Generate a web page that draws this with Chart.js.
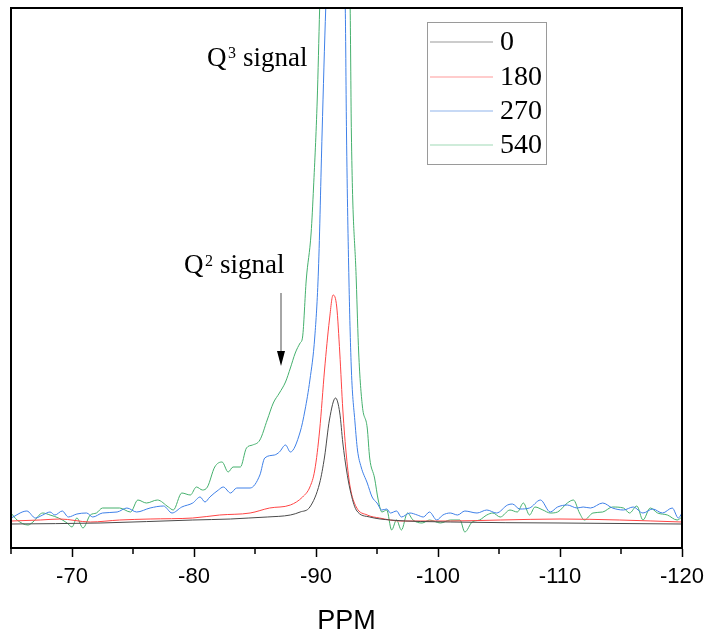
<!DOCTYPE html>
<html>
<head>
<meta charset="UTF-8">
<title>29Si NMR</title>
<script src="https://cdn.jsdelivr.net/npm/chart.js"></script>
<style>
  html, body { margin: 0; padding: 0; background: #fff; }
  #wrap { width: 708px; height: 632px; }
</style>
</head>
<body>
<div id="wrap"><canvas id="nmr" width="708" height="632"></canvas></div>
<script>
// series labels and colours
const seriesLabels = ['0', '180', '270', '540'];
const seriesColors = ['#4a4a4a', '#ff4545', '#3f80e8', '#45b06d'];
const legendColors = ['#9a9a9a', '#ff9a9a', '#8fb4ec', '#9fd9b6'];

// x tick labels (ppm)
const xTicks = [-70, -80, -90, -100, -110, -120];

// 0
const ppm0 = [-65, -72.3, -79.9, -83, -84.5, -86, -87.9, -88.7, -89.5, -90.3, -90.7, -91.1, -91.6, -91.95, -92.2, -92.5, -92.8, -93.3, -94.4, -96.1, -101, -110, -120];
const int0 = [24, 25, 28, 29, 30, 31, 33, 36, 41, 65, 91, 128, 150, 135, 105, 78, 58, 38, 31, 28, 26, 25, 24];

// 180
const ppm180 = [-65, -67.4, -69, -71.5, -73.9, -76.4, -79.9, -82.1, -84.6, -86.2, -87.9, -88.9, -89.5, -89.9, -90.3, -90.7, -91.1, -91.4, -91.7, -91.95, -92.2, -92.5, -92.8, -93.3, -94.2, -95.2, -96.9, -101, -105.1, -110, -114.9, -120];
const int180 = [27, 28, 29, 26, 28, 29, 30, 33, 35, 40, 43, 51, 61, 78, 118, 178, 228, 253, 241, 195, 138, 91, 61, 41, 33, 30, 27, 27, 28, 29, 28, 26];

// 270
const ppm270 = [-65, -66.3, -67, -67.6, -68.2, -68.6, -69.2, -69.7, -70.4, -71.2, -71.7, -72.5, -73.7, -74.5, -75.3, -76.4, -77.5, -78.2, -79, -79.9, -80.5, -80.9, -81.3, -82, -82.4, -83, -83.5, -84.6, -85.4, -85.8, -86.6, -87, -87.5, -87.9, -88.7, -89.1, -89.5, -89.9, -90.2, -90.5, -90.8, -91.6, -92.4, -92.5, -92.7, -92.9, -93.2, -93.4, -93.7, -94.2, -94.6, -95, -95.4, -95.8, -96.1, -96.6, -97, -97.7, -98.3, -98.8, -99.3, -99.9, -100.4, -101, -101.6, -102.2, -103.2, -104, -104.8, -105.7, -106.1, -106.7, -107.5, -108.4, -109.2, -109.8, -110.6, -111.4, -111.9, -112.5, -113.5, -114.3, -115.2, -116, -116.8, -117.6, -118.4, -119.2, -119.7, -120];
const int270 = [30, 37, 30, 33, 36, 33, 37, 31, 34, 35, 31, 35, 36, 40, 36, 40, 42, 35, 41, 45, 51, 46, 51, 58, 61, 55, 60, 60, 73, 90, 93, 96, 103, 96, 116, 138, 168, 211, 278, 415, 540, 760, 540, 415, 268, 178, 125, 98, 81, 65, 51, 45, 38, 39, 35, 37, 31, 35, 33, 31, 36, 28, 33, 35, 33, 37, 35, 38, 35, 43, 44, 39, 40, 48, 36, 41, 43, 40, 41, 40, 45, 40, 38, 41, 35, 39, 35, 40, 30, 35];

// 540
const ppm540 = [-65, -65.5, -66.4, -66.8, -67.6, -68.2, -68.9, -69.6, -70, -70.4, -70.9, -71.5, -72, -72.5, -73.9, -74.8, -75.4, -76.1, -77, -77.9, -78.3, -79, -79.7, -80.2, -80.7, -81.1, -81.7, -82.3, -82.8, -83.2, -83.8, -84.3, -84.8, -85.4, -86, -86.5, -87, -87.5, -87.9, -88.3, -88.7, -88.9, -89.2, -89.6, -89.8, -90.1, -90.3, -91.6, -92.8, -92.9, -93.3, -93.5, -93.8, -94.2, -94.4, -94.8, -95.1, -95.4, -95.8, -96.2, -96.6, -97, -97.5, -97.95, -98.7, -99.3, -100.2, -101, -101.8, -102.2, -102.8, -103.4, -104, -104.5, -105.1, -105.9, -106.5, -107, -107.5, -107.95, -108.6, -109.2, -109.8, -110.6, -111.1, -111.6, -112, -112.7, -113.5, -114.3, -115.2, -115.7, -116.3, -116.8, -117.4, -118, -118.8, -119.6, -120];
const int540 = [35, 28, 23, 26, 35, 33, 30, 25, 21, 30, 20, 33, 35, 40, 40, 36, 48, 45, 48, 41, 38, 55, 53, 61, 58, 61, 81, 86, 76, 81, 81, 100, 103, 108, 128, 145, 155, 166, 180, 195, 205, 211, 268, 315, 361, 448, 540, 1100, 540, 415, 268, 195, 142, 120, 90, 70, 48, 36, 38, 18, 28, 18, 35, 28, 25, 28, 25, 28, 28, 16, 26, 28, 33, 35, 31, 38, 36, 45, 33, 41, 38, 35, 36, 45, 48, 35, 28, 35, 36, 41, 40, 35, 42, 28, 40, 35, 33, 28, 31];

const allPpm = [ppm0, ppm180, ppm270, ppm540];
const allInt = [int0, int180, int270, int540];

const serif = "'Liberation Serif', 'Times New Roman', serif";

const extras = {
  id: 'extras',
  afterDraw(chart) {
    const ctx = chart.ctx;
    const a = chart.chartArea;
    const xs = chart.scales.x;
    ctx.save();

    // frame
    ctx.strokeStyle = '#000';
    ctx.lineWidth = 2;
    ctx.strokeRect(a.left, a.top, a.right - a.left, a.bottom - a.top);

    // minor ticks
    ctx.lineWidth = 1.5;
    for (let v = -65; v >= -115; v -= 10) {
      const px = xs.getPixelForValue(v);
      ctx.beginPath();
      ctx.moveTo(px, a.bottom);
      ctx.lineTo(px, a.bottom + 6);
      ctx.stroke();
    }

    // legend
    ctx.strokeStyle = '#9a9a9a';
    ctx.lineWidth = 1;
    ctx.strokeRect(427.5, 22.5, 119, 142);
    ctx.font = '28px ' + serif;
    ctx.fillStyle = '#000';
    ctx.textBaseline = 'middle';
    const rows = [42, 77, 111, 145];
    seriesLabels.forEach((lab, i) => {
      ctx.strokeStyle = legendColors[i];
      ctx.lineWidth = 1.2;
      ctx.beginPath();
      ctx.moveTo(430, rows[i]);
      ctx.lineTo(493, rows[i]);
      ctx.stroke();
      ctx.fillText(lab, 500, rows[i] + 1);
    });

    // annotations
    ctx.textBaseline = 'alphabetic';
    ctx.font = '27px ' + serif;
    ctx.fillText('Q', 207, 66);
    ctx.fillText('signal', 243, 66);
    ctx.fillText('Q', 184, 273);
    ctx.fillText('signal', 220, 273);
    ctx.font = '16px ' + serif;
    ctx.fillText('3', 228, 58);
    ctx.fillText('2', 205, 266);

    // arrow
    ctx.strokeStyle = '#888';
    ctx.lineWidth = 1.5;
    ctx.beginPath();
    ctx.moveTo(281, 293);
    ctx.lineTo(281, 352);
    ctx.stroke();
    ctx.fillStyle = '#000';
    ctx.beginPath();
    ctx.moveTo(277, 351);
    ctx.lineTo(285, 351);
    ctx.lineTo(281, 366);
    ctx.closePath();
    ctx.fill();

    ctx.restore();
  }
};

new Chart(document.getElementById('nmr'), {
  type: 'line',
  data: {
    datasets: seriesLabels.map((lab, i) => ({
      label: lab,
      data: allPpm[i].map((x, k) => ({ x: x, y: allInt[i][k] })),
      borderColor: seriesColors[i],
      borderWidth: 1,
      pointRadius: 0,
      fill: false,
      cubicInterpolationMode: 'monotone'
    }))
  },
  options: {
    responsive: false,
    animation: false,
    events: [],
    layout: { padding: { left: 11, top: 8, right: 26, bottom: 0 } },
    plugins: {
      legend: { display: false },
      tooltip: { enabled: false }
    },
    scales: {
      x: {
        type: 'linear',
        min: -120,
        max: -65,
        reverse: true,
        afterBuildTicks: (scale) => {
          scale.ticks = xTicks.map(v => ({ value: v }));
        },
        afterFit: (scale) => {
          scale.height = 84;
          scale.paddingLeft = 0;
          scale.paddingRight = 0;
        },
        grid: {
          drawOnChartArea: false,
          drawTicks: true,
          tickLength: 9,
          tickColor: '#000',
          tickWidth: 1.5
        },
        border: { display: true, color: '#000', width: 2 },
        ticks: {
          color: '#000',
          padding: 7,
          maxRotation: 0,
          font: { family: "Arial, 'Liberation Sans', sans-serif", size: 22 }
        },
        title: {
          display: true,
          text: 'PPM',
          color: '#000',
          padding: 0,
          font: { family: "Arial, 'Liberation Sans', sans-serif", size: 27, lineHeight: 0.8 }
        }
      },
      y: {
        display: false,
        min: 0,
        max: 540
      }
    }
  },
  plugins: [extras]
});
</script>
</body>
</html>
